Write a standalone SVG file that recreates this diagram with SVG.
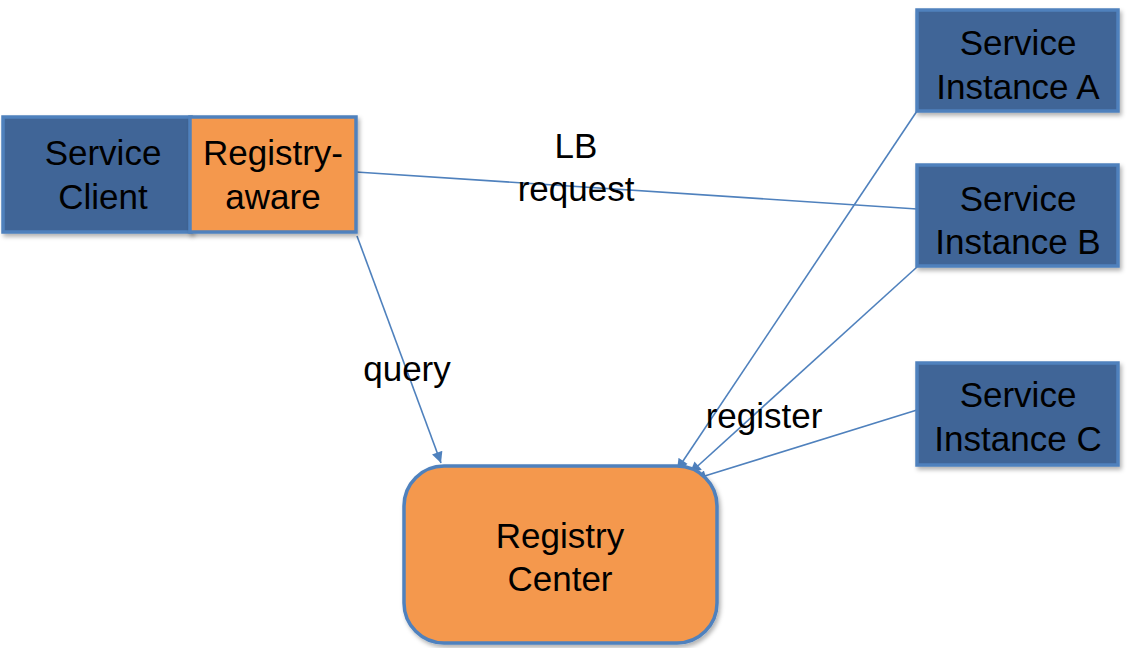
<svg xmlns="http://www.w3.org/2000/svg" width="1138" height="648" viewBox="0 0 1138 648">
<defs>
<style>
.blue{fill:#406597;stroke:#4F81BD;stroke-width:3.5}
.orange{fill:#F4984E;stroke:#4F81BD;stroke-width:3.5}
.t{font-family:"Liberation Sans",Arial,sans-serif;font-size:35px;fill:#000;text-anchor:middle}
.c{stroke:#4F81BD;stroke-width:1.6;fill:none}
</style>
<marker id="ah" viewBox="0 0 10 10" refX="10" refY="5" markerWidth="12" markerHeight="11" markerUnits="userSpaceOnUse" orient="auto">
<path d="M0,0 L10,5 L0,10 z" fill="#4F81BD"/>
</marker>
<filter id="sh" x="-10%" y="-10%" width="130%" height="130%">
<feDropShadow dx="2" dy="3" stdDeviation="2" flood-color="#000" flood-opacity="0.3"/>
</filter>
</defs>
<g id="connectors">
<line class="c" x1="356" y1="172" x2="917" y2="209"/>
<line class="c" x1="357" y1="236" x2="441" y2="463" marker-end="url(#ah)"/>
<line class="c" x1="917" y1="111" x2="677" y2="470" marker-end="url(#ah)"/>
<line class="c" x1="917" y1="267" x2="690" y2="473" marker-end="url(#ah)"/>
<line class="c" x1="917" y1="410" x2="695" y2="479" marker-end="url(#ah)"/>
<text class="t" x="576" y="158">LB</text>
<text class="t" x="576" y="201">request</text>
<text class="t" x="407" y="381">query</text>
<text class="t" x="764" y="428">register</text>
</g>
<g id="service-client">
<rect class="blue" x="3" y="117" width="188" height="115" filter="url(#sh)"/>
<text class="t" x="103" y="165">Service</text>
<text class="t" x="103" y="209">Client</text>
</g>
<g id="registry-aware">
<rect class="orange" x="190" y="117" width="166" height="115" filter="url(#sh)"/>
<text class="t" x="273" y="165">Registry-</text>
<text class="t" x="273" y="209">aware</text>
</g>
<g id="instance-a">
<rect class="blue" x="917" y="10" width="201" height="101" filter="url(#sh)"/>
<text class="t" x="1018" y="55">Service</text>
<text class="t" x="1018" y="99">Instance A</text>
</g>
<g id="instance-b">
<rect class="blue" x="917" y="165" width="201" height="101" filter="url(#sh)"/>
<text class="t" x="1018" y="211">Service</text>
<text class="t" x="1018" y="254">Instance B</text>
</g>
<g id="instance-c">
<rect class="blue" x="917" y="363" width="201" height="102" filter="url(#sh)"/>
<text class="t" x="1018" y="407">Service</text>
<text class="t" x="1018" y="451">Instance C</text>
</g>
<g id="registry-center">
<rect class="orange" x="404" y="466" width="313" height="177" rx="40" ry="40" filter="url(#sh)"/>
<text class="t" x="560" y="548">Registry</text>
<text class="t" x="560" y="591">Center</text>
</g>
</svg>
